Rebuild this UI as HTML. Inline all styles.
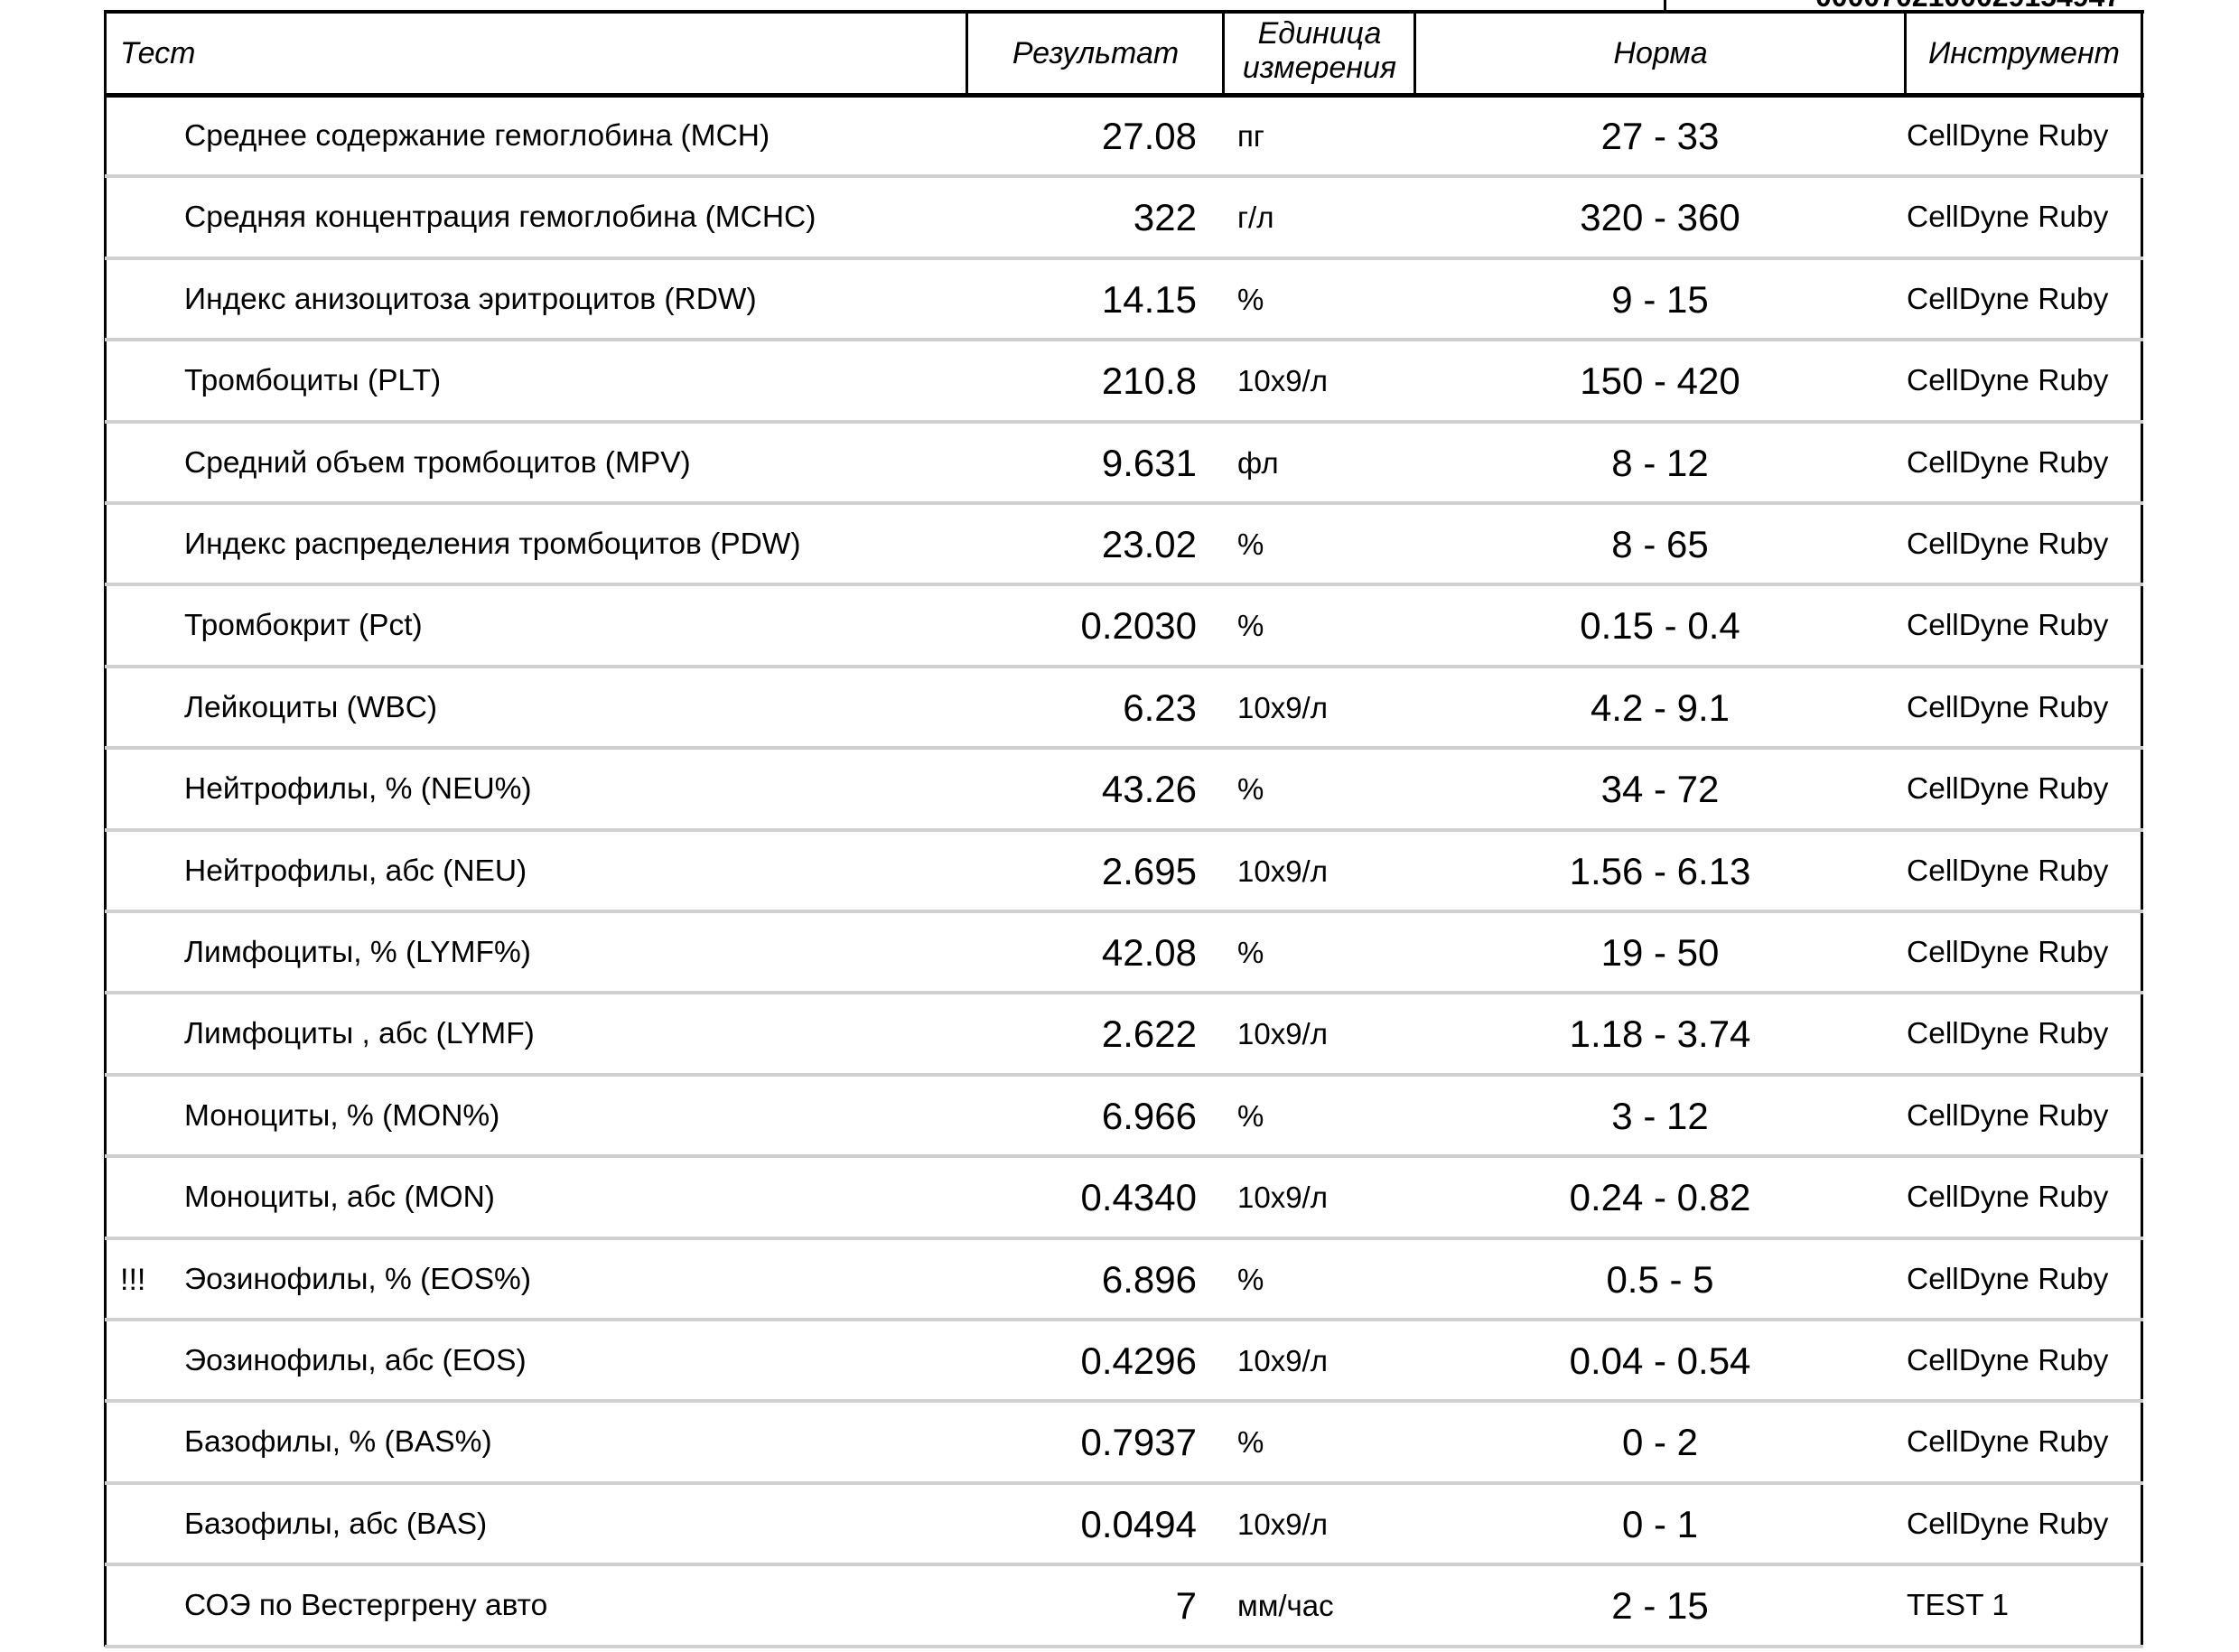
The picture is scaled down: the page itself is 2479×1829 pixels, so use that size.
<!DOCTYPE html>
<html><head><meta charset="utf-8"><style>
body{margin:0;width:2479px;height:1829px;background:#fff;position:relative;overflow:hidden;font-family:"Liberation Sans",Arial,sans-serif;color:#000}
.a{position:absolute;white-space:nowrap}
.ln{position:absolute;background:#000}
.g{position:absolute;background:#cfcfcf;height:4px;left:116px;width:2257px}
.h{font-style:italic;font-size:34px;text-align:center}
.n{font-size:33.5px;left:204px}
.r{font-size:42px;right:1154px;text-align:right}
.u{font-size:33px;left:1370px}
.m{font-size:42px;left:1638px;width:400px;text-align:center}
.i{font-size:33.5px;left:2111px}
</style></head><body>
<div class="ln" style="left:1842px;top:0;width:3px;height:14px"></div>
<div class="a" style="left:2010px;top:-22px;font-size:32px;font-weight:bold">0000702100029154947</div>
<div class="ln" style="left:115px;top:11px;width:2259px;height:4px"></div>
<div class="ln" style="left:115px;top:103px;width:2259px;height:5px"></div>
<div class="ln" style="left:115px;top:11px;width:3px;height:1812px"></div>
<div class="ln" style="left:2370px;top:11px;width:3px;height:1812px"></div>
<div class="ln" style="left:1069px;top:11px;width:3px;height:95px"></div>
<div class="ln" style="left:1353px;top:11px;width:3px;height:95px"></div>
<div class="ln" style="left:1565px;top:11px;width:3px;height:95px"></div>
<div class="ln" style="left:2108px;top:11px;width:3px;height:95px"></div>
<div class="a h" style="left:133px;top:40px">Тест</div>
<div class="a h" style="left:1072px;width:282px;top:40px">Результат</div>
<div class="a h" style="left:1356px;width:210px;top:18px;line-height:38px">Единица<br>измерения</div>
<div class="a h" style="left:1568px;width:541px;top:40px">Норма</div>
<div class="a h" style="left:2111px;width:260px;top:40px">Инструмент</div>
<div id="rows"></div>
<script>
var d=[
["Среднее содержание гемоглобина (MCH)","27.08","пг","27 - 33","CellDyne Ruby"],
["Средняя концентрация гемоглобина (MCHC)","322","г/л","320 - 360","CellDyne Ruby"],
["Индекс анизоцитоза эритроцитов (RDW)","14.15","%","9 - 15","CellDyne Ruby"],
["Тромбоциты (PLT)","210.8","10x9/л","150 - 420","CellDyne Ruby"],
["Средний объем тромбоцитов (MPV)","9.631","фл","8 - 12","CellDyne Ruby"],
["Индекс распределения тромбоцитов (PDW)","23.02","%","8 - 65","CellDyne Ruby"],
["Тромбокрит (Pct)","0.2030","%","0.15 - 0.4","CellDyne Ruby"],
["Лейкоциты (WBC)","6.23","10x9/л","4.2 - 9.1","CellDyne Ruby"],
["Нейтрофилы, % (NEU%)","43.26","%","34 - 72","CellDyne Ruby"],
["Нейтрофилы, абс (NEU)","2.695","10x9/л","1.56 - 6.13","CellDyne Ruby"],
["Лимфоциты, % (LYMF%)","42.08","%","19 - 50","CellDyne Ruby"],
["Лимфоциты , абс (LYMF)","2.622","10x9/л","1.18 - 3.74","CellDyne Ruby"],
["Моноциты, % (MON%)","6.966","%","3 - 12","CellDyne Ruby"],
["Моноциты, абс (MON)","0.4340","10x9/л","0.24 - 0.82","CellDyne Ruby"],
["Эозинофилы, % (EOS%)","6.896","%","0.5 - 5","CellDyne Ruby"],
["Эозинофилы, абс (EOS)","0.4296","10x9/л","0.04 - 0.54","CellDyne Ruby"],
["Базофилы, % (BAS%)","0.7937","%","0 - 2","CellDyne Ruby"],
["Базофилы, абс (BAS)","0.0494","10x9/л","0 - 1","CellDyne Ruby"],
["СОЭ по Вестергрену авто","7","мм/час","2 - 15","TEST 1"]];
var h="",H=90.4;
d.forEach(function(r,k){var t=106+k*H,s="top:"+t.toFixed(1)+"px;height:"+H+"px;line-height:"+H+"px";
h+='<div class="a n" style="'+s+'">'+r[0]+'</div><div class="a r" style="'+s+'">'+r[1]+'</div><div class="a u" style="'+s+'">'+r[2]+'</div><div class="a m" style="'+s+'">'+r[3]+'</div><div class="a i" style="'+s+'">'+r[4]+'</div>';
if(k==14)h+='<div class="a" style="left:133px;font-size:34px;'+s+'">!!!</div>';
h+='<div class="g" style="top:'+(t+H-3).toFixed(1)+'px"></div>';});
document.getElementById("rows").innerHTML=h;
</script>
</body></html>
